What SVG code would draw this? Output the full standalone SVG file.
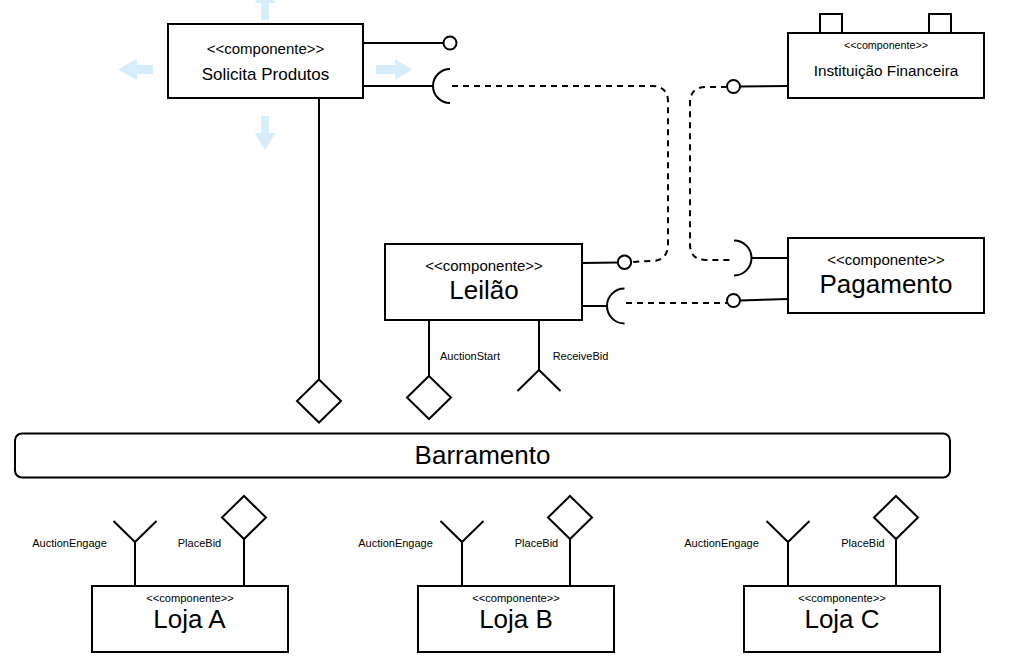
<svg xmlns="http://www.w3.org/2000/svg" width="1016" height="669" viewBox="0 0 1016 669">
<defs>
<style>
.box{fill:#fff;stroke:#000;stroke-width:2}
.ln{fill:none;stroke:#000;stroke-width:2}
.dash{fill:none;stroke:#000;stroke-width:2;stroke-dasharray:6 5}
.lol{fill:#fff;stroke:#000;stroke-width:2}
.hint{fill:#d6eefb;stroke:none}
text{font-family:"Liberation Sans",Arial,sans-serif;fill:#000;text-anchor:middle}
.st{font-size:15px}
.big{font-size:26px}
.lbl{font-size:11px}
</style>
<path id="dia" d="M0,-21.5 L22,0 L0,21.5 L-22,0 Z" class="box"/>
<path id="fork" d="M-21.5,-21 L0,0 L21.5,-21" class="ln"/>
</defs>
<rect width="1016" height="669" fill="#fff"/>

<g id="hover-arrows">
<path class="hint" d="M261,20 V3 H254.5 L265,-14 L275.5,3 H269 V20 Z"/>
<path class="hint" d="M153,65 H137 V59 L118,69.5 L137,80 V74 H153 Z"/>
<path class="hint" d="M376,65 H395 V59 L412,69.5 L395,80 V74 H376 Z"/>
<path class="hint" d="M261,116 V133 H254.5 L265,150 L275.5,133 H269 V116 Z"/>
</g>

<g id="connectors">
<line class="ln" x1="363" y1="43" x2="444" y2="43"/>
<circle class="lol" cx="450" cy="43" r="6.5"/>
<line class="ln" x1="363" y1="86" x2="433" y2="86"/>
<path class="ln" d="M450,69 A17,17 0 0 0 450,103"/>
<path class="dash" d="M452,86 H652 Q668,86 668,102 V244 Q668,261 651,261 L631,262"/>
<line class="ln" x1="319" y1="95" x2="319" y2="379.5"/>
<line class="ln" x1="740" y1="86.5" x2="788" y2="86"/>
<circle class="lol" cx="733.5" cy="86.5" r="6.5"/>
<path class="dash" d="M727,87 H706 Q690,87 690,103 V244 Q690,260 706,260 H734"/>
<path class="ln" d="M734,240.5 A17.5,17.5 0 0 1 734,275.5"/>
<line class="ln" x1="751.5" y1="258" x2="788" y2="258"/>
<line class="ln" x1="740" y1="300.5" x2="788" y2="299"/>
<circle class="lol" cx="733.5" cy="300.5" r="6.5"/>
<path class="dash" d="M626,303 H727"/>
<line class="ln" x1="582" y1="263" x2="618" y2="262.5"/>
<circle class="lol" cx="624.5" cy="262.3" r="6.7"/>
<line class="ln" x1="582" y1="306" x2="607" y2="306"/>
<path class="ln" d="M624.5,288.5 A17.5,17.5 0 0 0 624.5,323.5"/>
<line class="ln" x1="429" y1="320" x2="429" y2="376"/>
<line class="ln" x1="539" y1="320" x2="539" y2="370"/>
<use href="#fork" x="539" y="370" transform="rotate(180 539 370)"/>
<use href="#dia" x="319" y="401"/>
<use href="#dia" x="429" y="397.5"/>
<line class="ln" x1="135" y1="586" x2="135" y2="542"/>
<use href="#fork" x="135" y="542"/>
<line class="ln" x1="244" y1="586" x2="244" y2="539"/>
<use href="#dia" x="244" y="517.5"/>
<line class="ln" x1="462" y1="586" x2="462" y2="542"/>
<use href="#fork" x="462" y="542"/>
<line class="ln" x1="570" y1="586" x2="570" y2="539"/>
<use href="#dia" x="570" y="517.5"/>
<line class="ln" x1="788" y1="586" x2="788" y2="542"/>
<use href="#fork" x="788" y="542"/>
<line class="ln" x1="896" y1="586" x2="896" y2="539"/>
<use href="#dia" x="896" y="517.5"/>
</g>

<g id="labels">
<text class="lbl" x="470" y="360">AuctionStart</text>
<text class="lbl" x="580.5" y="360">ReceiveBid</text>
<text class="lbl" x="69.5" y="547">AuctionEngage</text>
<text class="lbl" x="199.5" y="547">PlaceBid</text>
<text class="lbl" x="395.5" y="547">AuctionEngage</text>
<text class="lbl" x="536.5" y="547">PlaceBid</text>
<text class="lbl" x="721.5" y="547">AuctionEngage</text>
<text class="lbl" x="863" y="547">PlaceBid</text>
</g>

<g id="solicita-produtos">
<rect class="box" x="168" y="24" width="195" height="74"/>
<text class="st" x="265.5" y="54">&lt;&lt;componente&gt;&gt;</text>
<text x="265.5" y="80" font-size="17">Solicita Produtos</text>
</g>

<g id="instituicao-financeira">
<rect class="box" x="820" y="14" width="22" height="19"/>
<rect class="box" x="929" y="14" width="22" height="19"/>
<rect class="box" x="788" y="33" width="196" height="65"/>
<text x="886" y="49" font-size="10.7">&lt;&lt;componente&gt;&gt;</text>
<text x="886" y="76" font-size="15.3">Instituição Financeira</text>
</g>

<g id="leilao">
<rect class="box" x="385" y="244" width="197" height="76"/>
<text class="st" x="484" y="271">&lt;&lt;componente&gt;&gt;</text>
<text class="big" x="484" y="299">Leilão</text>
</g>

<g id="pagamento">
<rect class="box" x="788" y="238" width="196" height="75"/>
<text class="st" x="886" y="265">&lt;&lt;componente&gt;&gt;</text>
<text class="big" x="886" y="292.5">Pagamento</text>
</g>

<g id="barramento">
<rect class="box" x="15" y="433.5" width="935" height="44" rx="7"/>
<text class="big" x="482.5" y="464">Barramento</text>
</g>

<g id="loja-a">
<rect class="box" x="92" y="586" width="196" height="66"/>
<text x="190" y="601.5" font-size="11.2">&lt;&lt;componente&gt;&gt;</text>
<text class="big" x="189.5" y="628">Loja A</text>
</g>

<g id="loja-b">
<rect class="box" x="418" y="586" width="196" height="66"/>
<text x="516" y="601.5" font-size="11.2">&lt;&lt;componente&gt;&gt;</text>
<text class="big" x="516" y="628">Loja B</text>
</g>

<g id="loja-c">
<rect class="box" x="744" y="586" width="196" height="66"/>
<text x="842" y="601.5" font-size="11.2">&lt;&lt;componente&gt;&gt;</text>
<text class="big" x="842" y="628">Loja C</text>
</g>
</svg>
